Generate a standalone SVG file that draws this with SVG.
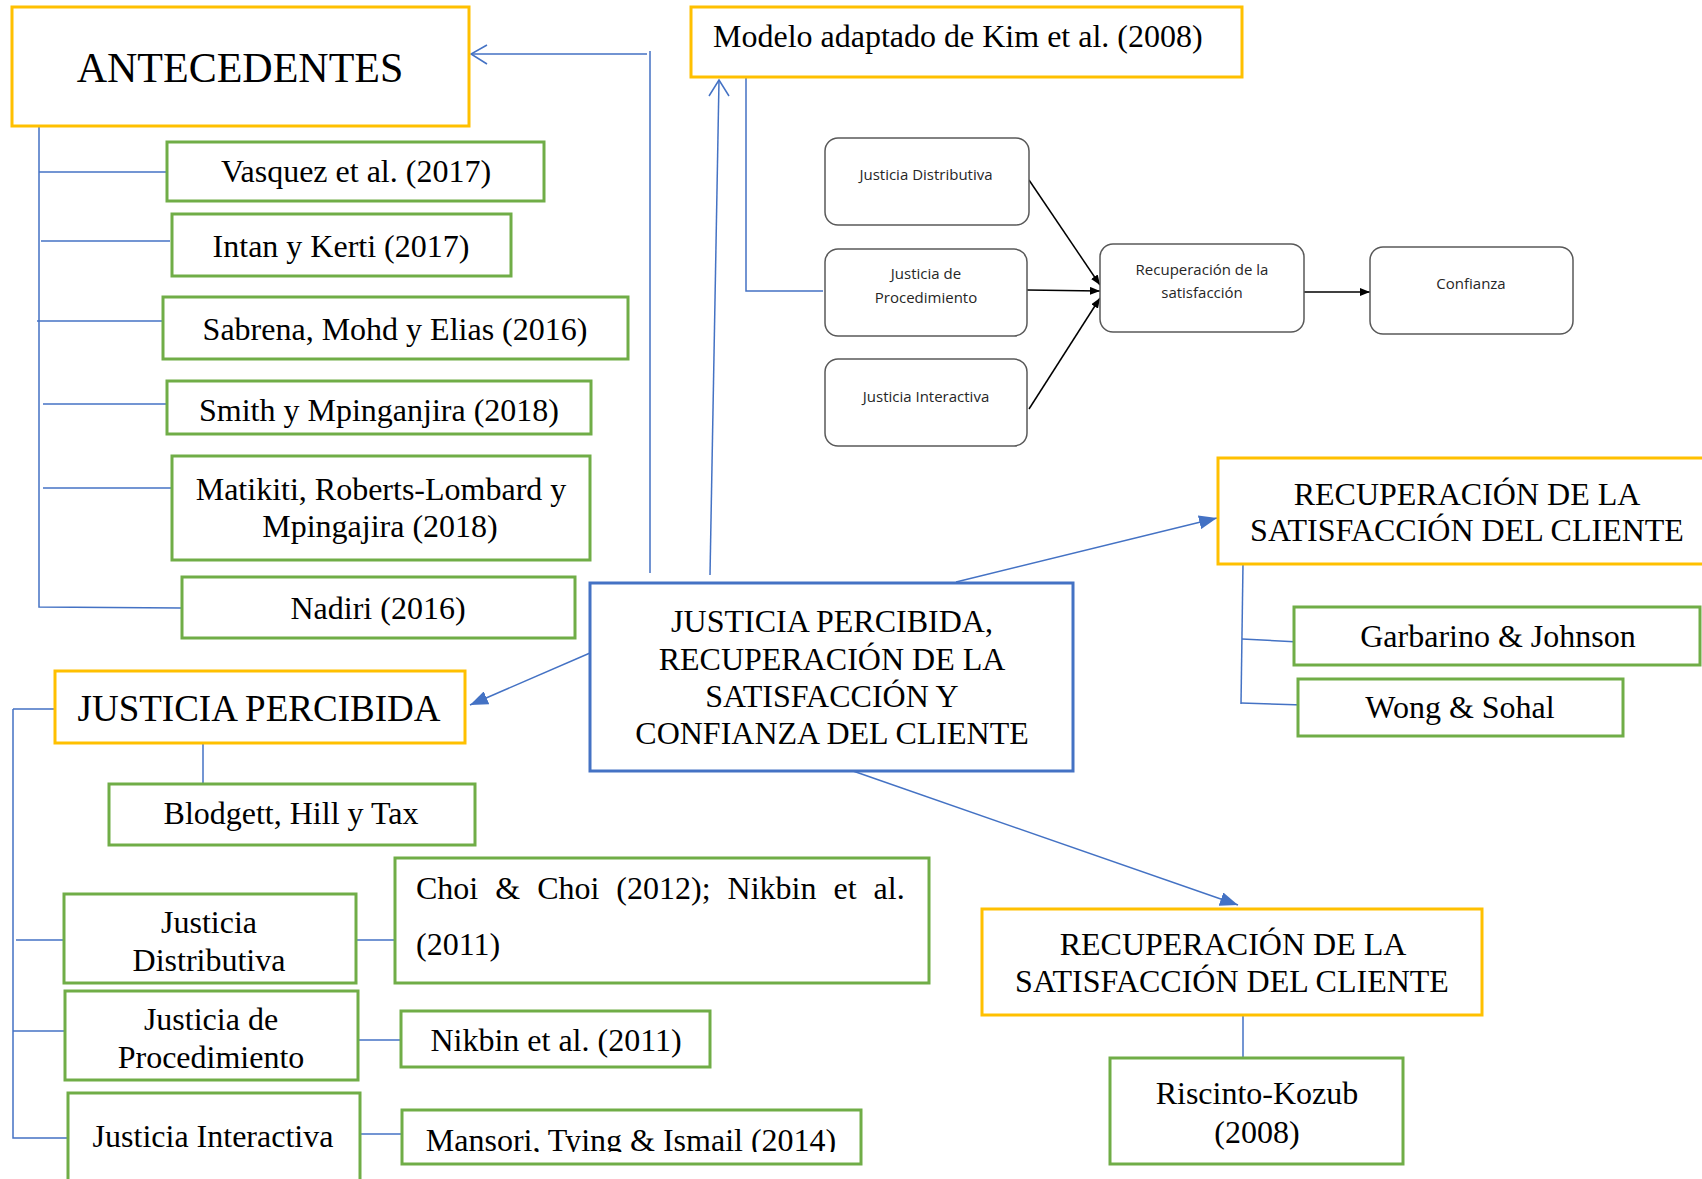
<svg xmlns="http://www.w3.org/2000/svg" width="1702" height="1179" viewBox="0 0 1702 1179">
<style>
.t{font-family:"Liberation Serif","Times New Roman",serif;fill:#000;font-size:32px;text-anchor:middle}
.s{font-family:"Open Sans","Liberation Sans",sans-serif;fill:#262626;font-size:15px;text-anchor:middle}
.or{fill:#fff;stroke:#FFC000;stroke-width:3}
.gr{fill:#fff;stroke:#70AD47;stroke-width:3}
.bl{fill:#fff;stroke:#4472C4;stroke-width:3}
.rd{fill:#fff;stroke:#595959;stroke-width:1.5}
.c{fill:none;stroke:#4472C4;stroke-width:1.5}
.k{fill:none;stroke:#000;stroke-width:1.5}
</style>
<defs>
<marker id="ab" viewBox="0 0 18 14" refX="18" refY="7" markerWidth="18" markerHeight="14" orient="auto" markerUnits="userSpaceOnUse"><path d="M0,0 L18,7 L0,14 z" fill="#4472C4"/></marker>
<marker id="ak" viewBox="0 0 10 8" refX="10" refY="4" markerWidth="10" markerHeight="8" orient="auto" markerUnits="userSpaceOnUse"><path d="M0,0 L10,4 L0,8 z" fill="#000"/></marker>
<clipPath id="mclip"><rect x="402" y="1110" width="459" height="42"/></clipPath>
</defs>
<rect width="1702" height="1179" fill="#fff"/>

<g id="connectors">
<path class="c" d="M39,126 V607 L181,608"/>
<path class="c" d="M39,172 H167"/>
<path class="c" d="M41,241 H170"/>
<path class="c" d="M37,321 H169"/>
<path class="c" d="M43,404 H171"/>
<path class="c" d="M43,488 H171"/>
<path class="c" d="M650,573 V51 M647,54 H472"/>
<path class="c" d="M487,45 L471,54 L487,64"/>
<path class="c" d="M710,575 L719,80"/>
<path class="c" d="M709,96 L719,80 L729,96"/>
<path class="c" d="M746,77 V291 H823"/>
<path class="c" d="M590,653 L470,705" marker-end="url(#ab)"/>
<path class="c" d="M956,582 L1217,518" marker-end="url(#ab)"/>
<path class="c" d="M853,771 L1238,905" marker-end="url(#ab)"/>
<path class="c" d="M1243,564 L1241,704"/>
<path class="c" d="M1242,639 L1299,642"/>
<path class="c" d="M1241,703 L1303,705"/>
<path class="c" d="M1243,1015 V1058"/>
<path class="c" d="M13,709 H55 M13,709 V1138 H68"/>
<path class="c" d="M16,940 H70"/>
<path class="c" d="M13,1031 H67"/>
<path class="c" d="M203,743 V784"/>
<path class="c" d="M356,940 H395"/>
<path class="c" d="M358,1040 H401"/>
<path class="c" d="M360,1134 H402"/>
<path class="k" d="M1029,180 L1100,285" marker-end="url(#ak)"/>
<path class="k" d="M1027,290 L1100,291" marker-end="url(#ak)"/>
<path class="k" d="M1029,409 L1100,298" marker-end="url(#ak)"/>
<path class="k" d="M1304,292 L1370,292" marker-end="url(#ak)"/>
</g>

<g id="antecedentes"><rect class="or" x="12" y="7" width="457" height="119"/><text class="t" x="240" y="82" style="font-size:42px">ANTECEDENTES</text></g>
<g id="vasquez"><rect class="gr" x="167" y="142" width="377" height="59"/><text class="t" x="356" y="182">Vasquez et al. (2017)</text></g>
<g id="intan"><rect class="gr" x="172" y="214" width="339" height="62"/><text class="t" x="341" y="257">Intan y Kerti (2017)</text></g>
<g id="sabrena"><rect class="gr" x="163" y="297" width="465" height="62"/><text class="t" x="395" y="340">Sabrena, Mohd y Elias (2016)</text></g>
<g id="smith"><rect class="gr" x="167" y="381" width="424" height="53"/><text class="t" x="379" y="421">Smith y Mpinganjira (2018)</text></g>
<g id="matikiti"><rect class="gr" x="172" y="456" width="418" height="104"/><text class="t" x="381" y="500">Matikiti, Roberts-Lombard y</text><text class="t" x="380" y="537">Mpingajira (2018)</text></g>
<g id="nadiri"><rect class="gr" x="182" y="577" width="393" height="61"/><text class="t" x="378" y="619">Nadiri (2016)</text></g>

<g id="modelo"><rect class="or" x="691" y="7" width="551" height="70"/><text class="t" x="713" y="47" style="text-anchor:start">Modelo adaptado de Kim et al. (2008)</text></g>
<g id="m-jd"><rect class="rd" x="825" y="138" width="204" height="87" rx="13"/><text class="s" x="926" y="180">Justicia Distributiva</text></g>
<g id="m-jp"><rect class="rd" x="825" y="249" width="202" height="87" rx="13"/><text class="s" x="926" y="279">Justicia de</text><text class="s" x="926" y="303">Procedimiento</text></g>
<g id="m-ji"><rect class="rd" x="825" y="359" width="202" height="87" rx="13"/><text class="s" x="926" y="402">Justicia Interactiva</text></g>
<g id="m-rec"><rect class="rd" x="1100" y="244" width="204" height="88" rx="13"/><text class="s" x="1202" y="275">Recuperación de la</text><text class="s" x="1202" y="298">satisfacción</text></g>
<g id="m-conf"><rect class="rd" x="1370" y="247" width="203" height="87" rx="13"/><text class="s" x="1471" y="289">Confianza</text></g>

<g id="centro"><rect class="bl" x="590" y="583" width="483" height="188"/><text class="t" x="832" y="632">JUSTICIA PERCIBIDA,</text><text class="t" x="832" y="670">RECUPERACIÓN DE LA</text><text class="t" x="832" y="707">SATISFACCIÓN Y</text><text class="t" x="832" y="744">CONFIANZA DEL CLIENTE</text></g>

<g id="recup-top"><rect class="or" x="1218" y="458" width="490" height="106"/><text class="t" x="1467" y="505">RECUPERACIÓN DE LA</text><text class="t" x="1467" y="541">SATISFACCIÓN DEL CLIENTE</text></g>
<g id="garbarino"><rect class="gr" x="1294" y="607" width="406" height="58"/><text class="t" x="1498" y="647">Garbarino &amp; Johnson</text></g>
<g id="wong"><rect class="gr" x="1298" y="679" width="325" height="57"/><text class="t" x="1460" y="718">Wong &amp; Sohal</text></g>

<g id="recup-bottom"><rect class="or" x="982" y="909" width="500" height="106"/><text class="t" x="1233" y="955">RECUPERACIÓN DE LA</text><text class="t" x="1232" y="992">SATISFACCIÓN DEL CLIENTE</text></g>
<g id="riscinto"><rect class="gr" x="1110" y="1058" width="293" height="106"/><text class="t" x="1257" y="1104">Riscinto-Kozub</text><text class="t" x="1257" y="1143">(2008)</text></g>

<g id="justicia-percibida"><rect class="or" x="55" y="671" width="410" height="72"/><text class="t" x="259" y="721" style="font-size:37px">JUSTICIA PERCIBIDA</text></g>
<g id="blodgett"><rect class="gr" x="109" y="784" width="366" height="61"/><text class="t" x="291" y="824">Blodgett, Hill y Tax</text></g>
<g id="jd"><rect class="gr" x="64" y="894" width="292" height="89"/><text class="t" x="209" y="933">Justicia</text><text class="t" x="209" y="971">Distributiva</text></g>
<g id="choi"><rect class="gr" x="395" y="858" width="534" height="125"/><text class="t" x="416" y="899" style="text-anchor:start;word-spacing:9px">Choi &amp; Choi (2012); Nikbin et al.</text><text class="t" x="416" y="955" style="text-anchor:start">(2011)</text></g>
<g id="jp"><rect class="gr" x="65" y="991" width="293" height="89"/><text class="t" x="211" y="1030">Justicia de</text><text class="t" x="211" y="1068">Procedimiento</text></g>
<g id="nikbin"><rect class="gr" x="401" y="1011" width="309" height="56"/><text class="t" x="556" y="1051">Nikbin et al. (2011)</text></g>
<g id="ji"><rect class="gr" x="68" y="1093" width="292" height="100"/><text class="t" x="213" y="1147">Justicia Interactiva</text></g>
<g id="mansori"><rect class="gr" x="402" y="1110" width="459" height="54"/><text class="t" x="631" y="1151" clip-path="url(#mclip)">Mansori, Tying &amp; Ismail (2014)</text></g>
</svg>
